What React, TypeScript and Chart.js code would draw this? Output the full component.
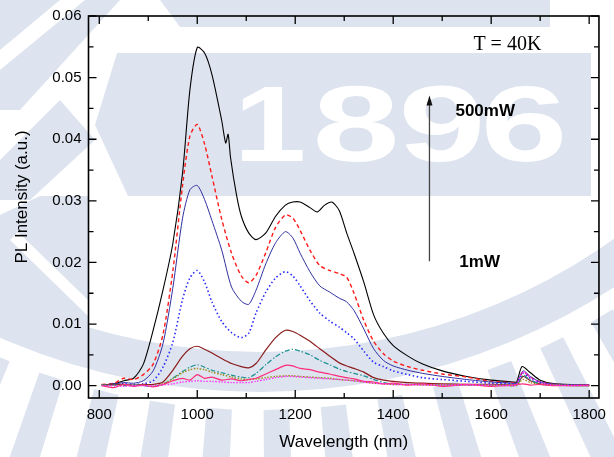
import React, { useEffect, useRef } from 'react';
import { Chart, registerables } from 'chart.js';

Chart.register(...registerables);

// ---------- data ----------
const wavelengths = [805, 830, 850, 870, 890, 910, 930, 950, 970, 985, 1000, 1015, 1030, 1050, 1070, 1090, 1105, 1120, 1140, 1160, 1180, 1195, 1210, 1230, 1250, 1270, 1290, 1305, 1320, 1340, 1360, 1380, 1400, 1430, 1460, 1500, 1550, 1600, 1645, 1652, 1665, 1680, 1700, 1730, 1800];

const blackWavelengths = [805, 830, 850, 870, 890, 910, 930, 950, 970, 985, 1000, 1015, 1030, 1050, 1058, 1063, 1068, 1080, 1090, 1105, 1120, 1140, 1160, 1180, 1195, 1210, 1230, 1245, 1260, 1275, 1290, 1305, 1320, 1340, 1360, 1380, 1400, 1430, 1460, 1500, 1550, 1600, 1645, 1652, 1663, 1680, 1700, 1730, 1800];
const p500mW = [0.0001, 0.0003, 0.0008, 0.0012, 0.0035, 0.009, 0.0155, 0.023, 0.0345, 0.048, 0.0549, 0.054, 0.0505, 0.043, 0.0394, 0.0408, 0.037, 0.031, 0.0275, 0.0248, 0.0237, 0.0248, 0.0275, 0.0293, 0.0298, 0.0298, 0.0289, 0.0282, 0.0293, 0.0298, 0.0284, 0.0248, 0.0215, 0.0168, 0.0115, 0.0085, 0.0065, 0.0048, 0.0035, 0.0024, 0.0015, 0.0009, 0.0006, 0.0006, 0.0031, 0.0021, 0.0009, 0.0003, 0.0001];

const pRedDash = [0.0002, 0.0004, 0.0012, 0.001, 0.0018, 0.0035, 0.0083, 0.0185, 0.0325, 0.0405, 0.0424, 0.0392, 0.034, 0.027, 0.0215, 0.0178, 0.0167, 0.0179, 0.0216, 0.0257, 0.0277, 0.0272, 0.0252, 0.022, 0.0195, 0.0187, 0.0182, 0.0176, 0.015, 0.0106, 0.0072, 0.0052, 0.004, 0.0031, 0.0025, 0.0019, 0.0014, 0.0007, 0.0005, 0.0005, 0.0022, 0.0014, 0.0006, 0.0002, 0.0001];

const pNavy = [0.0001, 0.0003, 0.0005, 0.0004, 0.0008, 0.0024, 0.0068, 0.0158, 0.0272, 0.0318, 0.0325, 0.0302, 0.0268, 0.022, 0.016, 0.0137, 0.0132, 0.0155, 0.0198, 0.0232, 0.025, 0.024, 0.0215, 0.0185, 0.0162, 0.0152, 0.0142, 0.0136, 0.0122, 0.0092, 0.006, 0.0041, 0.0032, 0.0025, 0.002, 0.0015, 0.001, 0.0006, 0.0004, 0.0004, 0.0024, 0.0015, 0.0006, 0.0002, 0.0001];

const pBlueDot = [0.0001, 0.0002, 0.0003, 0.0002, 0.0003, 0.0008, 0.003, 0.007, 0.014, 0.0175, 0.0187, 0.0168, 0.0136, 0.0104, 0.0086, 0.0078, 0.0085, 0.0118, 0.0152, 0.0175, 0.0185, 0.0178, 0.0162, 0.0138, 0.0118, 0.0105, 0.0095, 0.0086, 0.0076, 0.0056, 0.0038, 0.0031, 0.0024, 0.0018, 0.0013, 0.001, 0.0007, 0.0004, 0.0003, 0.0003, 0.002, 0.0012, 0.0005, 0.0002, 0.0001];

const pMaroon = [0.0001, 0.0002, 0.0002, 0.0001, 0.0002, 0.0002, 0.0006, 0.0025, 0.0048, 0.006, 0.0064, 0.0059, 0.0053, 0.0044, 0.0036, 0.0031, 0.0029, 0.0036, 0.0058, 0.0078, 0.009, 0.0088, 0.0082, 0.0072, 0.006, 0.0048, 0.0037, 0.0032, 0.0028, 0.0022, 0.0013, 0.0009, 0.0007, 0.0005, 0.0004, 0.0003, 0.0002, 0.0002, 0.0001, 0.0001, 0.0015, 0.0008, 0.0003, 0.0001, 0.0];

const pTeal = [0.0001, 0.0001, 0.0, 0.0001, 0.0, -0.0001, 0.0002, 0.0012, 0.0023, 0.003, 0.0034, 0.003, 0.0025, 0.0021, 0.0017, 0.0014, 0.0013, 0.002, 0.0034, 0.0047, 0.0056, 0.0059, 0.0056, 0.005, 0.0041, 0.0034, 0.0027, 0.0023, 0.002, 0.0016, 0.001, 0.0005, 0.0003, 0.0002, 0.0002, 0.0001, 0.0001, 0.0001, 0.0, 0.0, 0.0017, 0.0009, 0.0003, 0.0001, 0.0];

const pOlive = [0.0001, 0.0, 0.0001, 0.0, 0.0001, 0.0, 0.0003, 0.0011, 0.0021, 0.0026, 0.0028, 0.0026, 0.0022, 0.0018, 0.0014, 0.0011, 0.001, 0.0011, 0.0013, 0.0015, 0.0016, 0.0016, 0.0015, 0.0014, 0.0013, 0.0012, 0.001, 0.0009, 0.0008, 0.0006, 0.0004, 0.0003, 0.0002, 0.0002, 0.0001, 0.0001, 0.0001, 0.0001, 0.0, 0.0001, 0.001, 0.0005, 0.0002, 0.0001, 0.0];

const pPink = [0.0, -0.0003, 0.0002, -0.0001, 0.0001, -0.0002, 0.0002, 0.0008, 0.0012, 0.0009, 0.0018, 0.0012, 0.0014, 0.0009, 0.0011, 0.0008, 0.001, 0.0012, 0.0019, 0.0026, 0.0033, 0.0032, 0.0028, 0.0026, 0.0022, 0.0019, 0.0015, 0.0013, 0.0011, 0.0007, 0.0006, 0.0003, 0.0004, 0.0001, 0.0003, -0.0001, 0.0002, -0.0001, 0.0001, 0.0002, 0.0003, 0.0001, 0.0002, 0.0, 0.0001];

const pMagenta = [0.0, 0.0, -0.0001, 0.0, 0.0, 0.0, 0.0001, 0.0003, 0.0006, 0.0007, 0.0008, 0.0007, 0.0007, 0.0006, 0.0005, 0.0005, 0.0005, 0.0007, 0.001, 0.0013, 0.0015, 0.0015, 0.0014, 0.0013, 0.0012, 0.0011, 0.001, 0.0009, 0.0008, 0.0006, 0.0004, 0.0003, 0.0002, 0.0002, 0.0001, 0.0001, 0.0001, 0.0001, 0.0, 0.0001, 0.0023, 0.0013, 0.0005, 0.0001, 0.0];

const xMajorTicks = [800, 1000, 1200, 1400, 1600, 1800];
const yMajorTicks = [0, 0.01, 0.02, 0.03, 0.04, 0.05, 0.06];
const xRange = [778, 1820];
const yRange = [-0.002, 0.06];

const arrowFrom = { x: 1474, y: 0.0202 };
const arrowTo = { x: 1474, y: 0.0471 };
const labelHigh = { x: 1527, y: 0.0446, text: '500mW' };
const labelLow = { x: 1535, y: 0.02, text: '1mW' };
const labelTemp = { x: 1633, y: 0.0553, text: 'T = 40K' };

const SANS = '"Liberation Sans", Arial, sans-serif';
const SERIF = '"Liberation Serif", "Times New Roman", serif';
const WM = '#dde3ef';

function zip(xs: number[], ys: number[]) {
  return ys.map((y, i) => ({ x: xs[i], y }));
}

function drawWatermark(ctx: CanvasRenderingContext2D, W: number, H: number) {
  ctx.save();
  ctx.fillStyle = '#ffffff';
  ctx.fillRect(0, 0, W, H);
  ctx.fillStyle = WM;
  const poly = (pts: number[][]) => {
    ctx.beginPath();
    ctx.moveTo(pts[0][0], pts[0][1]);
    for (let i = 1; i < pts.length; i++) ctx.lineTo(pts[i][0], pts[i][1]);
    ctx.closePath();
    ctx.fill();
  };
  // top strip
  poly([[160, 0], [550, 0], [550, 27], [180, 27]]);
  // top-left wedge pieces
  poly([[0, 0], [60, 0], [0, 50]]);
  poly([[0, 70], [85, 0], [120, 0], [20, 110], [0, 110]]);
  poly([[0, 160], [60, 100], [95, 140], [30, 200], [0, 200]]);
  // banner
  poly([[117, 53], [591, 53], [591, 196], [128, 196], [95, 125]]);
  // left region under banner
  poly([[0, 215], [40, 196], [88, 196], [88, 330], [0, 330]]);
  const cx = 260, cy = -258;
  // big arc band near bottom
  ctx.beginPath();
  ctx.arc(cx, cy, 650, 0, Math.PI, false);
  ctx.arc(cx, cy, 610, Math.PI, 0, true);
  ctx.closePath();
  ctx.fill();
  // teeth ring below band
  for (let a = 20; a <= 160; a += 4.9) {
    const r = (a * Math.PI) / 180;
    const w = 0.019;
    ctx.beginPath();
    ctx.moveTo(cx + 668 * Math.cos(r - w), cy + 668 * Math.sin(r - w));
    ctx.lineTo(cx + 900 * Math.cos(r - w), cy + 900 * Math.sin(r - w));
    ctx.lineTo(cx + 900 * Math.cos(r + w), cy + 900 * Math.sin(r + w));
    ctx.lineTo(cx + 668 * Math.cos(r + w), cy + 668 * Math.sin(r + w));
    ctx.closePath();
    ctx.fill();
  }
  ctx.fillStyle = '#ffffff';
  // white diagonal stripes on left region
  poly([[10, 240], [18, 232], [88, 300], [88, 316]]);
  // "1896" in white inside banner
  ctx.font = `bold 108px ${SANS}`;
  ctx.textAlign = 'center';
  ctx.textBaseline = 'alphabetic';
  const digits = [['1', 270], ['8', 356], ['9', 442], ['6', 524]] as [string, number][];
  for (const [d, x] of digits) {
    ctx.save();
    ctx.translate(x, 161);
    ctx.scale(d === '1' ? 1.2 : 1.45, 1);
    ctx.fillText(d, 0, 0);
    ctx.restore();
  }
  ctx.restore();
}

const framePlugin = {
  id: 'framePlugin',
  beforeDraw(chart: any) {
    drawWatermark(chart.ctx, chart.width, chart.height);
  },
  afterDraw(chart: any) {
    const { ctx, chartArea: a } = chart;
    const xs = chart.scales.x;
    const ys = chart.scales.y;
    ctx.save();
    ctx.strokeStyle = '#000';
    ctx.lineWidth = 1.6;
    ctx.strokeRect(a.left, a.top, a.right - a.left, a.bottom - a.top);
    ctx.lineWidth = 1.3;
    ctx.beginPath();
    for (let v = 800; v <= 1800; v += 100) {
      const px = xs.getPixelForValue(v);
      const len = v % 200 === 0 ? 8 : 5;
      ctx.moveTo(px, a.bottom); ctx.lineTo(px, a.bottom - len);
      ctx.moveTo(px, a.top); ctx.lineTo(px, a.top + len);
    }
    for (let i = 0; i <= 12; i++) {
      const v = i * 0.005;
      const py = ys.getPixelForValue(v);
      const len = i % 2 === 0 ? 8 : 5;
      ctx.moveTo(a.left, py); ctx.lineTo(a.left + len, py);
      ctx.moveTo(a.right, py); ctx.lineTo(a.right - len, py);
    }
    ctx.stroke();

    // axis titles
    ctx.fillStyle = '#000';
    ctx.font = `17px ${SANS}`;
    ctx.textAlign = 'center';
    ctx.textBaseline = 'middle';
    ctx.fillText('Wavelength (nm)', (a.left + a.right) / 2, 442);
    ctx.save();
    ctx.translate(22, 197);
    ctx.rotate(-Math.PI / 2);
    ctx.fillText('PL Intensity (a.u.)', 0, 0);
    ctx.restore();

    // annotations
    const ax = xs.getPixelForValue(arrowFrom.x);
    const ay1 = ys.getPixelForValue(arrowFrom.y);
    const ay2 = ys.getPixelForValue(arrowTo.y);
    ctx.strokeStyle = '#444';
    ctx.fillStyle = '#111';
    ctx.lineWidth = 1.3;
    ctx.beginPath();
    ctx.moveTo(ax, ay1);
    ctx.lineTo(ax, ay2 + 8);
    ctx.stroke();
    ctx.beginPath();
    ctx.moveTo(ax, ay2);
    ctx.lineTo(ax - 3, ay2 + 10);
    ctx.lineTo(ax + 3, ay2 + 10);
    ctx.closePath();
    ctx.fill();

    ctx.fillStyle = '#000';
    ctx.textAlign = 'left';
    ctx.font = `bold 17px ${SANS}`;
    ctx.fillText(labelHigh.text, xs.getPixelForValue(labelHigh.x), ys.getPixelForValue(labelHigh.y));
    ctx.fillText(labelLow.text, xs.getPixelForValue(labelLow.x), ys.getPixelForValue(labelLow.y));
    ctx.textAlign = 'center';
    ctx.font = `20px ${SERIF}`;
    ctx.fillText(labelTemp.text, xs.getPixelForValue(labelTemp.x), ys.getPixelForValue(labelTemp.y));
    ctx.restore();
  },
};

export default function App() {
  const ref = useRef<HTMLCanvasElement>(null);
  useEffect(() => {
    if (!ref.current) return;
    const ds = (label: string, xs: number[], ys: number[], color: string, width: number, dash: number[]) => ({
      label,
      data: zip(xs, ys),
      borderColor: color,
      backgroundColor: color,
      borderWidth: width,
      borderDash: dash,
      pointRadius: 0,
      tension: 0.25,
      fill: false,
    });
    const chart = new Chart(ref.current, {
      type: 'line',
      data: {
        datasets: [
          ds('magenta', wavelengths, pMagenta, '#ff33ff', 1.4, [1.5, 1.5]),
          ds('pink', wavelengths, pPink, '#ff2a7a', 1.2, []),
          ds('olive', wavelengths, pOlive, '#9a8f20', 1.5, [1.5, 1.5]),
          ds('teal', wavelengths, pTeal, '#1a9090', 1.2, [5, 2, 1.5, 2]),
          ds('maroon', wavelengths, pMaroon, '#8b1c1c', 1.2, []),
          ds('blueDot', wavelengths, pBlueDot, '#2a2aff', 1.6, [1.5, 2.5]),
          ds('navy', wavelengths, pNavy, '#3030a0', 1.0, []),
          ds('red', wavelengths, pRedDash, '#ff1a1a', 1.4, [4, 3]),
          ds('500mW', blackWavelengths, p500mW, '#000000', 1.1, []),
        ],
      },
      options: {
        animation: false,
        responsive: false,
        maintainAspectRatio: false,
        parsing: false as any,
        layout: { padding: { top: 13, right: 8, left: 0, bottom: 0 } },
        plugins: { legend: { display: false }, tooltip: { enabled: false } },
        scales: {
          x: {
            type: 'linear',
            min: xRange[0],
            max: xRange[1],
            afterBuildTicks: (s: any) => { s.ticks = xMajorTicks.map((v) => ({ value: v })); },
            afterFit: (s: any) => { s.height = 59; },
            grid: { display: false, drawTicks: false },
            border: { display: false },
            ticks: { color: '#000', font: { family: SANS, size: 15 }, padding: 8, maxRotation: 0, callback: (v: any) => String(v) },
          },
          y: {
            type: 'linear',
            min: yRange[0],
            max: yRange[1],
            afterBuildTicks: (s: any) => { s.ticks = yMajorTicks.map((v) => ({ value: v })); },
            afterFit: (s: any) => { s.width = 88.5; },
            grid: { display: false, drawTicks: false },
            border: { display: false },
            ticks: { color: '#000', font: { family: SANS, size: 15 }, padding: 7, callback: (v: any) => Number(v).toFixed(2) },
          },
        },
      },
      plugins: [framePlugin],
    });
    return () => chart.destroy();
  }, []);
  return (
    <div style={{ position: 'absolute', left: 0, top: 0, width: 614, height: 457 }}>
      <canvas ref={ref} width={614} height={457} style={{ display: 'block', width: 614, height: 457 }} />
    </div>
  );
}
